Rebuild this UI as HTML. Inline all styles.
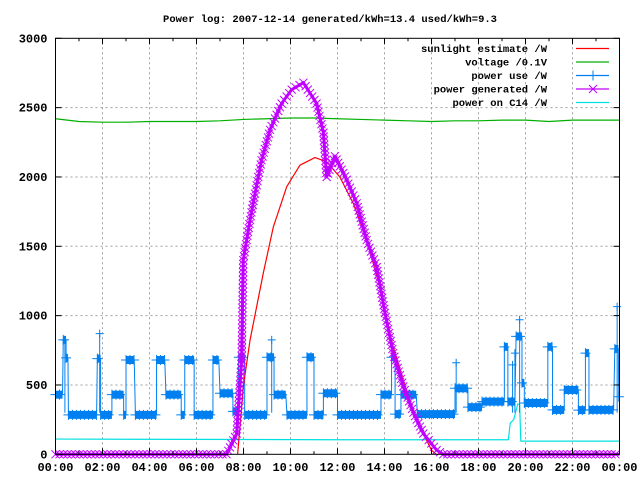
<!DOCTYPE html>
<html><head><meta charset="utf-8"><style>
html,body{margin:0;padding:0;background:#fff;}
svg{display:block;}
text{font-family:"Liberation Mono","DejaVu Sans Mono",monospace;fill:#000;}
</style></head><body>
<svg id="chart" width="640" height="480" viewBox="0 0 640 480" xmlns="http://www.w3.org/2000/svg">
<rect width="640" height="480" fill="#fff"/>
<text x="330" y="22" text-anchor="middle" font-size="10.5" font-weight="bold">Power log: 2007-12-14 generated/kWh=13.4 used/kWh=9.3</text>
<g id="grid"></g>
<g id="series"></g>
<g id="axes"></g>
<g id="legend"></g>
</svg>
<script>
const xTicks = ["00:00","02:00","04:00","06:00","08:00","10:00","12:00","14:00","16:00","18:00","20:00","22:00","00:00"];
const yTicks = [0,500,1000,1500,2000,2500,3000];
const sunH = [7.75,8.0,8.28,8.84,9.27,9.84,10.4,11.04,11.54,12.1,12.67,13.24,13.8,14.37,14.96,15.5,16.0,16.2];
const sunV = [0,500,825,1305,1640,1930,2085,2140,2110,2000,1810,1545,1210,775,440,200,30,0];
const voltH = [0,1,2,3,4,5,6,7,8,9,10,11,12,13,14,15,16,17,18,19,20,21,22,23,24];
const voltV = [2420,2400,2395,2395,2400,2400,2400,2405,2415,2420,2425,2425,2420,2415,2410,2405,2400,2405,2405,2410,2410,2400,2410,2410,2410];
const useSeg = [[0,0.3,430],[0.33,0.45,825],[0.45,0.53,695],[0.55,1.75,284],[1.78,1.92,690],[1.92,2.4,284],[2.4,2.9,430],[2.9,3.0,284],[3.0,3.35,680],[3.4,4.3,284],[4.3,4.65,680],[4.7,5.35,430],[5.35,5.5,284],[5.5,5.9,680],[5.9,6.7,284],[6.7,6.95,680],[7.0,7.55,440],[7.55,7.75,310],[7.8,8.05,700],[8.05,9.0,284],[9.0,9.3,700],[9.3,9.8,430],[9.85,10.7,284],[10.7,11.0,700],[11.0,11.4,284],[11.4,12.0,440],[12.0,13.85,284],[13.85,14.3,430],[14.3,14.45,700],[14.45,14.7,290],[14.7,15.35,430],[15.4,17.0,290],[17.0,17.55,476],[17.55,18.15,340],[18.15,19.1,380],[19.1,19.25,775],[19.25,19.55,380],[19.6,19.85,850],[19.85,19.95,515],[19.95,20.95,370],[20.95,21.15,775],[21.15,21.65,320],[21.65,22.25,464],[22.25,22.55,319],[22.55,22.7,730],[22.7,23.75,320],[23.8,23.95,760],[23.97,24,415]];
const useSpikeH = [0.4,1.88,9.2,17.05,19.45,19.55,19.75,23.9];
const useSpikeV = [825,870,825,660,645,730,970,1065];
const genH = [0,7.28,7.71,7.92,7.99,8.28,8.49,8.77,9.13,9.62,10.05,10.55,11.11,11.4,11.54,11.89,12.39,12.82,13.24,13.67,14.02,14.37,14.8,15.23,15.65,16.22,16.5,24];
const genV = [0,0,150,680,1400,1690,1880,2120,2340,2530,2630,2680,2530,2320,2000,2150,1980,1810,1545,1350,1020,730,490,300,150,30,0,0];
const c14H = [0,12,19.27,19.35,19.5,19.67,19.75,19.8,24];
const c14V = [110,105,105,225,250,363,360,95,95];

const X0=55.5, X1=619.5, Y0=454.3, Y1=38.3;
const xs = h => X0 + (h/24)*(X1-X0);
const ys = v => Y0 - (v/3000)*(Y0-Y1);
const NS="http://www.w3.org/2000/svg";
function mk(tag, parent, attrs){const e=document.createElementNS(NS,tag);for(const k in attrs)e.setAttribute(k,attrs[k]);parent.appendChild(e);return e;}
const grid=document.getElementById('grid'), axes=document.getElementById('axes'), series=document.getElementById('series'), legend=document.getElementById('legend');

yTicks.forEach((t,i)=>{
  const y=ys(t);
  if(t>0 && t<3000){
    const g=mk('line',grid,{x1:X0,x2:X1,y1:y,y2:y,stroke:'#a0a0a0','stroke-width':1,'stroke-dasharray':'2,3'});
    
    
  }
  const l=mk('text',axes,{x:X0-8,y:y+4,'text-anchor':'end','font-size':'12','font-weight':'bold'});
  l.textContent=t;
  
  
  mk('line',axes,{x1:X0,x2:X0+6,y1:y,y2:y,stroke:'#000'});
  mk('line',axes,{x1:X1,x2:X1-6,y1:y,y2:y,stroke:'#000'});
});
for(let h=0;h<=24;h++){
  const x=xs(h), major=h%2===0, len=major?6:3;
  mk('line',axes,{x1:x,x2:x,y1:Y0,y2:Y0-len,stroke:'#000'});
  mk('line',axes,{x1:x,x2:x,y1:Y1,y2:Y1+len,stroke:'#000'});
  if(major && h>0 && h<24){
    const g=mk('line',grid,{x1:x,x2:x,y1:Y0,y2:Y1,stroke:'#a0a0a0','stroke-width':1,'stroke-dasharray':'2,3'});
    
    
  }
}
xTicks.forEach((t,i)=>{
  const l=mk('text',axes,{x:xs(i*2),y:471,'text-anchor':'middle','font-size':'12','font-weight':'bold'});
  l.textContent=t;
  
  
});
const frame=mk('rect',axes,{x:X0,y:Y1,width:X1-X0,height:Y0-Y1,fill:'none',stroke:'#000','stroke-width':1});



function poly(H,V,color,w){
  return mk('polyline',series,{points:H.map((h,i)=>xs(h)+','+ys(V[i])).join(' '),fill:'none',stroke:color,'stroke-width':w,'stroke-linejoin':'round'});
}
function plus(x,y,c,s){mk('path',series,{d:`M${x-s},${y}H${x+s}M${x},${y-s}V${y+s}`,stroke:c,'stroke-width':1});}
function cross(x,y,c,s){mk('path',series,{d:`M${x-s},${y-s}L${x+s},${y+s}M${x-s},${y+s}L${x+s},${y-s}`,stroke:c,'stroke-width':1});}

const c14=poly(c14H,c14V,'#00e0e0',1.2);



const volt=poly(voltH,voltV,'#00b000',1.2);



const useCol='#0080f0';
let pts=[];
useSeg.forEach(s=>{pts.push(xs(s[0])+','+ys(s[2]));pts.push(xs(s[1])+','+ys(s[2]));});
const useLine=mk('polyline',series,{points:pts.join(' '),fill:'none',stroke:useCol,'stroke-width':1});


useSeg.forEach(s=>{
  const xa=xs(s[0]), xb=xs(s[1]), y=ys(s[2]);
  const b=mk('line',series,{x1:xa,x2:xb,y1:y,y2:y,stroke:useCol,'stroke-width':8});
  
  
  for(let x=xa;x<=xb;x+=4) plus(x,y,useCol,5);
});
useSpikeH.forEach((h,i)=>{
  const x=xs(h),y=ys(useSpikeV[i]);
  mk('line',series,{x1:x,x2:x,y1:y,y2:ys(300),stroke:useCol,'stroke-width':1});
  plus(x,y,useCol,4);
});

const sun=poly(sunH,sunV,'#ff0000',1.2);



const genCol='#c000ff';
const gl=poly(genH,genV,genCol,1);


const gb=poly(genH,genV,genCol,3);


for(let i=0;i<genH.length-1;i++){
  const xa=xs(genH[i]),ya=ys(genV[i]),xb=xs(genH[i+1]),yb=ys(genV[i+1]);
  const d=Math.hypot(xb-xa,yb-ya), n=Math.max(1,Math.round(d/4));
  for(let k=0;k<n;k++){const t=k/n;cross(xa+(xb-xa)*t,ya+(yb-ya)*t,genCol,4);}
}

const entries=[["sunlight estimate /W",'#ff0000',null],["voltage /0.1V",'#00b000',null],["power use /W",useCol,'plus'],["power generated /W",genCol,'cross'],["power on C14 /W",'#00e0e0',null]];
const names=['legend-sunlight','legend-voltage','legend-power-use','legend-power-generated','legend-c14'];
entries.forEach((e,i)=>{
  const y=48.5+13.5*i;
  const g=mk('g',legend,{});
  
  
  const t=mk('text',g,{x:547,y:y+3.5,'text-anchor':'end','font-size':'10.5','font-weight':'bold'});
  t.textContent=e[0];
  mk('line',g,{x1:576,x2:609,y1:y,y2:y,stroke:e[1],'stroke-width':1.2});
  if(e[2]==='plus'){mk('path',g,{d:`M588,${y}h10M593,${y-5}v10`,stroke:e[1]});}
  if(e[2]==='cross'){mk('path',g,{d:`M589,${y-4}l8,8M589,${y+4}l8,-8`,stroke:e[1]});}
});
</script>
</body></html>
